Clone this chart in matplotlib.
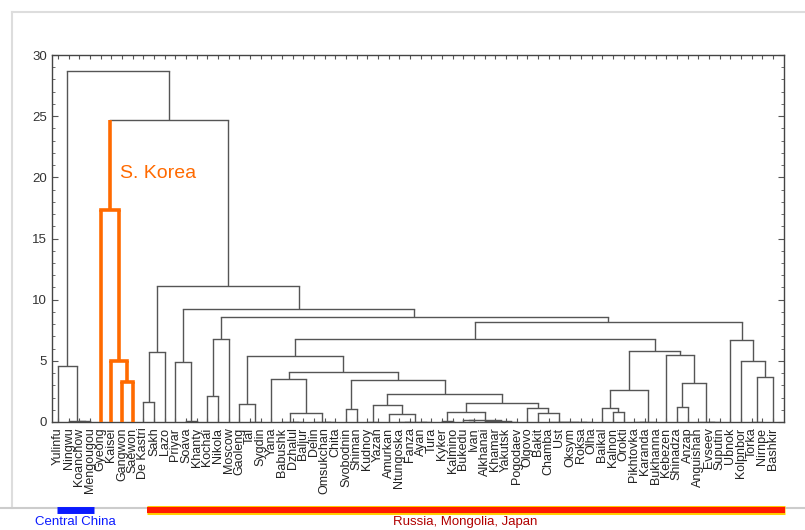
import matplotlib
matplotlib.use("Agg")
import matplotlib.pyplot as plt
from matplotlib.lines import Line2D
from matplotlib.transforms import blended_transform_factory

plt.rcParams['font.family'] = ['Liberation Sans', 'DejaVu Sans']

# leaf labels, left to right
leaves = ["Yulinfu", "Ningwu", "Koanchow", "Mengougou", "Gyeong", "Kaisei",
          "Gangwon", "Saewon", "De Kastri", "Sakh", "Lazo", "Priyar", "Soava",
          "Khanty", "Kochai", "Nikola", "Moscow", "Gaoleng", "Tal", "Sygdin",
          "Yana", "Babushk", "Dzhalul", "Baljur", "Delin", "Omsukchan", "Chita",
          "Svobodnin", "Shiman", "Kudnoy", "Yazan", "Amurkan", "Ntungoska",
          "Fanza", "Ayan", "Tura", "Kyker", "Kalmino", "Bukedu", "Ivan",
          "Alkhanai", "Khamar", "Yakutsk", "Pogodaev", "Olgovo", "Bakit",
          "Chamba", "Ust", "Oksym", "Roksa", "Olha", "Baikal", "Kalnon",
          "Orokti", "Pikhtovka", "Karanda", "Bukhanna", "Kebezen", "Shinadza",
          "Anzap", "Anguishan", "Evseev", "Suputin", "Ubnok", "Kolpnbor",
          "Torka", "Nirnpe", "Bashkir"]

# merges as (left, right, linkage distance); ints are leaf indices
central = (0, (1, (2, 3, 0.05), 0.1), 4.6)
korea = (4, (5, (6, 7, 3.3), 5.0), 17.3)
b1 = ((8, 9, 1.6), 10, 5.7)
b2 = (11, (12, 13, 0.1), 4.9)
b3 = ((14, 15, 2.1), 16, 6.8)
w_left = (17, (18, 19, 0), 1.5)
w_e = (20, ((21, (22, 23, 0), 0), (24, (25, 26, 0), 0), 0.75), 3.5)
w_i = ((29, 30, 0), (31, ((32, 33, 0), (34, 35, 0), 0), 0.65), 1.4)
w_k1 = ((36, 37, 0.05), ((38, 39, 0.15), ((40, 41, 0.1), (42, 43, 0), 0.12), 0.2), 0.8)
w_k2 = (44, (45, (46, (47, (48, (49, 50, 0), 0), 0), 0), 0.75), 1.15)
w_f = ((27, 28, 1.05), (w_i, (w_k1, w_k2, 1.55), 2.3), 3.4)
west = (w_left, (w_e, w_f, 4.1), 5.4)
e_p = ((51, (52, 53, 0.8), 1.15), ((54, 55, 0), 56, 0), 2.6)
e_q = (57, ((58, 59, 1.2), (60, (61, 62, 0), 0), 3.2), 5.5)
east = (e_p, e_q, 5.8)
far_east = (63, (64, ((65, 66, 0), 67, 3.7), 5.0), 6.7)
middle = (b3, ((west, east, 6.8), far_east, 8.2), 8.6)
rest = (b1, (b2, middle, 9.2), 11.1)
tree = (central, (korea, rest, 24.7), 28.7)

# region bars under the labels: (text, first leaf, last leaf)
groups = [("Central China", 0, 3), ("Russia, Mongolia, Japan", 8, 67)]

GRAY = "#555555"
ORANGE = "#ff6a00"

fig = plt.figure(figsize=(8.05, 5.3), dpi=100)

# window border like the statistica panel (behind everything)
for xs, ys, c in (([12 / 805, 1], [518 / 530, 518 / 530], "#dddddd"),
                  ([12 / 805, 12 / 805], [22 / 530, 518 / 530], "#dddddd"),
                  ([0, 1], [22 / 530, 22 / 530], "#cccccc")):
    fig.add_artist(Line2D(xs, ys, color=c, lw=1.5, zorder=-5))

ax = fig.add_axes([52 / 805, 108 / 530, 732 / 805, 367 / 530])


def draw(node, hot=False):
    """ draws a subtree, returns (x, height) of its top """
    if isinstance(node, int):
        return node, 0.0
    hot = hot or node is korea
    left, right, h = node
    xl, yl = draw(left, hot)
    xr, yr = draw(right, hot)
    for x, y, child in ((xl, yl, left), (xr, yr, right)):
        child_hot = hot or child is korea
        ax.plot([x, x], [y, h], color=ORANGE if child_hot else GRAY,
                lw=2.6 if child_hot else 1.0, solid_capstyle='butt',
                zorder=3 if child_hot else 2)
    ax.plot([xl, xr], [h, h], color=ORANGE if hot else GRAY,
            lw=2.6 if hot else 1.0, zorder=3 if hot else 2)
    return (xl + xr) / 2, h


draw(tree)

ax.text(5.8, 20.3, "S. Korea", color=ORANGE, fontsize=14, ha='left', va='center')

n = len(leaves)
ax.set_xlim(-0.56, n + 0.04)
ax.set_ylim(0, 30)
ax.set_yticks(range(0, 31, 5))
ax.set_yticks(range(0, 31), minor=True)
ax.set_xticks(range(n))
ax.set_xticklabels(leaves, rotation=90, fontsize=9, color="#222222")
ax.tick_params(axis='x', direction='in', length=3, top=True, pad=4, color=GRAY)
ax.tick_params(axis='y', which='both', direction='in', right=True, color=GRAY,
               labelsize=9.5, labelcolor="#333333")
ax.tick_params(axis='y', which='major', length=4)
ax.tick_params(axis='y', which='minor', length=2)
for s in ax.spines.values():
    s.set_color("#444444")
    s.set_linewidth(1.0)

# coloured region bars
trans = blended_transform_factory(ax.transData, ax.transAxes)
name, a, b = groups[0]
ax.plot([a - 0.1, b + 0.4], [-0.24, -0.24], color="#0a1aff", lw=5,
        transform=trans, clip_on=False, solid_capstyle='butt')
ax.text((a + b) / 2 + 0.1, -0.273, name, color="#0a1aff", fontsize=9.5,
        ha='center', va='center', transform=trans)
name, a, b = groups[1]
ax.plot([a + 0.3, b + 1.1], [-0.24, -0.24], color="#ffd200", lw=6.5,
        transform=trans, clip_on=False, solid_capstyle='butt')
ax.plot([a + 0.3, b + 1.1], [-0.24, -0.24], color="#ff1a00", lw=4.4,
        transform=trans, clip_on=False, solid_capstyle='butt')
ax.text((a + b) / 2 + 0.7, -0.273, name, color="#b00000", fontsize=9.5,
        ha='center', va='center', transform=trans)

fig.savefig("out.png", dpi=100)
